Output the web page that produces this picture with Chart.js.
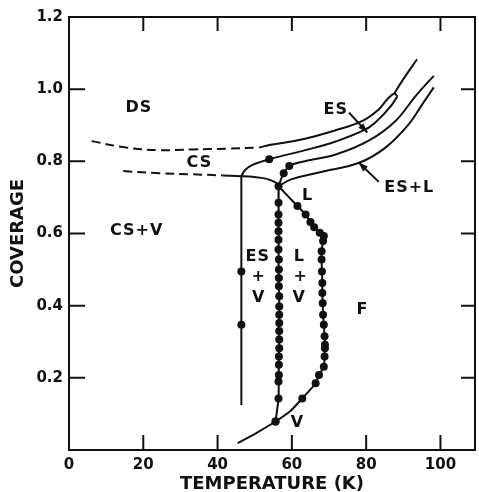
<!DOCTYPE html>
<html>
<head>
<meta charset="utf-8">
<script src="https://cdn.jsdelivr.net/npm/chart.js@4.4.1/dist/chart.umd.min.js"></script>
<style>
  html, body { margin: 0; padding: 0; background: #fff; }
</style>
</head>
<body>
<canvas id="phaseChart" width="479" height="492"></canvas>
<script>
const FONT = '"DejaVu Sans", sans-serif';
const INK = '#111';

// DS / ES upper boundary: dashed at low T, solid above, ending in the small loop
const dsDashT = [6.1, 15.5, 24.4, 33.4, 42.3, 51.2];
const dsDashCov = [0.856, 0.838, 0.831, 0.833, 0.835, 0.838];
const dsSolidT = [51.2, 53.9, 62.9, 71.8, 79.0, 83.4, 85.7, 87.6, 88.4];
const dsSolidCov = [0.838, 0.845, 0.861, 0.886, 0.912, 0.944, 0.972, 0.988, 0.980];
const tailT = [87.6, 89.7, 93.7];
const tailCov = [0.988, 1.023, 1.083];

// CS lower boundary
const csDashT = [14.6, 24.4, 33.4, 41.5];
const csDashCov = [0.773, 0.767, 0.764, 0.761];
const csSolidT = [41.5, 46.4, 49.4, 53.0, 55.7, 56.4];
const csSolidCov = [0.761, 0.759, 0.757, 0.752, 0.741, 0.731];

// CS / ES boundary
const esT = [46.4, 47.4, 49.4, 53.9, 62.9, 71.8, 79.9, 83.4, 87.0, 88.4];
const esCov = [0.759, 0.776, 0.790, 0.806, 0.829, 0.855, 0.889, 0.917, 0.958, 0.980];
const esDots = [0, 0, 0, 1, 0, 0, 0, 0, 0, 0];

// CS+V vertical boundary
const cvT = [46.4, 46.4, 46.4, 46.4];
const cvCov = [0.759, 0.495, 0.347, 0.125];
const cvDots = [0, 1, 1, 0];

// ES / ES+L boundary
const eslT = [56.4, 57.0, 57.8, 59.3, 62.9, 71.8, 80.8, 87.9, 93.3, 98.2];
const eslCov = [0.731, 0.748, 0.767, 0.787, 0.799, 0.819, 0.858, 0.912, 0.981, 1.037];
const eslDots = [0, 0, 1, 1, 0, 0, 0, 0, 0, 0];

// ES+L / L boundary
const lT = [56.4, 59.8, 67.3, 78.1, 85.2, 91.5, 95.1, 98.2];
const lCov = [0.731, 0.750, 0.769, 0.796, 0.838, 0.903, 0.958, 1.005];

// ES+V left boundary (measured points)
const esvT = [56.4, 56.4, 56.4, 56.4, 56.4, 56.4, 56.4, 56.5, 56.5, 56.5, 56.5, 56.6,
  56.6, 56.6, 56.6, 56.6, 56.6, 56.6, 56.5, 56.5, 56.5, 56.4, 56.4, 55.6];
const esvCov = [0.731, 0.685, 0.653, 0.630, 0.606, 0.583, 0.556, 0.528, 0.500, 0.477, 0.454, 0.426,
  0.398, 0.375, 0.352, 0.330, 0.306, 0.282, 0.259, 0.236, 0.208, 0.190, 0.143, 0.079];

// V curve and L+V right boundary up to the triple point
const lvT = [45.4, 50.4, 55.6, 59.6, 62.8, 66.4, 67.3, 68.6, 68.8, 68.9, 68.9, 68.8, 68.6, 68.4, 68.3,
  68.2, 68.2, 68.1, 68.0, 68.0, 68.4, 68.6, 67.5, 66.0, 65.0, 63.7, 61.5, 59.0, 56.4];
const lvCov = [0.019, 0.047, 0.079, 0.108, 0.143, 0.185, 0.208, 0.231, 0.259, 0.282, 0.292, 0.315, 0.347, 0.375, 0.407,
  0.435, 0.463, 0.495, 0.528, 0.551, 0.579, 0.593, 0.602, 0.617, 0.632, 0.653, 0.676, 0.703, 0.731];
const lvDots = [0, 0, 1, 0, 1, 1, 1, 1, 1, 1, 1, 1, 1, 1, 1,
  1, 1, 1, 1, 1, 1, 1, 1, 1, 1, 1, 1, 0, 0];

const xTicks = [0, 20, 40, 60, 80, 100];
const yTicks = [0.2, 0.4, 0.6, 0.8, 1.0, 1.2];

// region names
const regionText = ['DS', 'CS', 'CS+V', 'ES', 'ES+L', 'L', 'ES', '+', 'V', 'L', '+', 'V', 'F', 'V'];
const regionT = [18.8, 35.1, 18.2, 71.8, 91.6, 64.2, 50.8, 51.1, 51.1, 62.0, 62.4, 62.0, 79.0, 61.5];
const regionCov = [0.947, 0.795, 0.608, 0.943, 0.727, 0.704, 0.535, 0.481, 0.421, 0.535, 0.481, 0.421, 0.389, 0.074];

// leader arrows from the ES and ES+L labels
const arrowStart = [[75.4, 0.935], [83.4, 0.743]];
const arrowEnd = [[80.3, 0.880], [78.0, 0.797]];

const pts = (ts, cs) => ts.map((t, i) => ({ x: t, y: cs[i] }));
const radii = flags => flags.map(f => (f ? 4 : 0));

function curve (ts, cs, extra) {
	return Object.assign({
		data: pts(ts, cs),
		showLine: true,
		borderColor: INK,
		borderWidth: 2,
		pointRadius: 0,
		pointBackgroundColor: INK,
		pointBorderWidth: 0,
		tension: 0.4,
		fill: false,
	}, extra || {});
}

const frame = {
	id: 'frame',
	afterDraw (chart) {
		const { ctx, chartArea: a, scales: { x, y } } = chart;
		ctx.save();
		ctx.strokeStyle = INK;
		ctx.lineWidth = 2;
		ctx.strokeRect(a.left, a.top, a.right - a.left, a.bottom - a.top);
		ctx.beginPath();
		xTicks.filter(v => v > 0).forEach(v => {
			const px = x.getPixelForValue(v);
			ctx.moveTo(px, a.bottom); ctx.lineTo(px, a.bottom - 15);
			ctx.moveTo(px, a.top); ctx.lineTo(px, a.top + 14);
		});
		yTicks.filter(v => v < 1.2).forEach(v => {
			const py = y.getPixelForValue(v);
			ctx.moveTo(a.left, py); ctx.lineTo(a.left + 16, py);
			ctx.moveTo(a.right, py); ctx.lineTo(a.right - 14, py);
		});
		ctx.stroke();

		ctx.fillStyle = INK;
		ctx.font = 'bold 16px ' + FONT;
		ctx.letterSpacing = '1px';
		ctx.textAlign = 'center';
		ctx.textBaseline = 'middle';
		regionText.forEach((txt, i) => {
			ctx.fillText(txt, x.getPixelForValue(regionT[i]), y.getPixelForValue(regionCov[i]));
		});
		ctx.letterSpacing = '0px';

		arrowStart.forEach((s, i) => {
			const x1 = x.getPixelForValue(s[0]), y1 = y.getPixelForValue(s[1]);
			const x2 = x.getPixelForValue(arrowEnd[i][0]), y2 = y.getPixelForValue(arrowEnd[i][1]);
			const ang = Math.atan2(y2 - y1, x2 - x1);
			ctx.beginPath();
			ctx.moveTo(x1, y1);
			ctx.lineTo(x2, y2);
			ctx.stroke();
			ctx.beginPath();
			ctx.moveTo(x2, y2);
			ctx.lineTo(x2 - 10 * Math.cos(ang - 0.35), y2 - 10 * Math.sin(ang - 0.35));
			ctx.lineTo(x2 - 10 * Math.cos(ang + 0.35), y2 - 10 * Math.sin(ang + 0.35));
			ctx.closePath();
			ctx.fill();
		});
		ctx.restore();
	},
};

const tickFont = { family: FONT, size: 15, weight: 'bold' };
const titleFont = { family: FONT, size: 18, weight: 'bold', lineHeight: 0.8 };

new Chart(document.getElementById('phaseChart'), {
	type: 'scatter',
	data: {
		datasets: [
			curve(dsDashT, dsDashCov, { borderDash: [9, 5] }),
			curve(dsSolidT, dsSolidCov),
			curve(tailT, tailCov),
			curve(csDashT, csDashCov, { borderDash: [9, 5] }),
			curve(csSolidT, csSolidCov),
			curve(esT, esCov, { pointRadius: radii(esDots) }),
			curve(cvT, cvCov, { pointRadius: radii(cvDots), tension: 0 }),
			curve(eslT, eslCov, { pointRadius: radii(eslDots) }),
			curve(lT, lCov),
			curve(esvT, esvCov, { pointRadius: 4, tension: 0 }),
			curve(lvT, lvCov, { pointRadius: radii(lvDots), tension: 0.25 }),
		],
	},
	options: {
		responsive: false,
		animation: false,
		events: [],
		layout: { padding: { top: 17, right: 3, left: 0, bottom: 0 } },
		plugins: { legend: { display: false }, tooltip: { enabled: false } },
		scales: {
			x: {
				type: 'linear',
				min: 0,
				max: 109.3,
				afterFit: s => { s.height = 42; },
				grid: { display: false, drawTicks: false },
				border: { display: false },
				ticks: {
					stepSize: 20,
					includeBounds: false,
					autoSkip: false,
					maxRotation: 0,
					padding: 6,
					color: INK,
					font: tickFont,
					callback: v => (xTicks.includes(v) ? String(v) : ''),
				},
				title: { display: true, text: 'TEMPERATURE (K)', color: INK, font: titleFont, padding: 0 },
			},
			y: {
				type: 'linear',
				min: 0,
				max: 1.2,
				afterFit: s => { s.width = 69; },
				grid: { display: false, drawTicks: false },
				border: { display: false },
				ticks: {
					stepSize: 0.2,
					autoSkip: false,
					padding: 6,
					color: INK,
					font: tickFont,
					callback: v => (v > 0.01 ? v.toFixed(1) : ''),
				},
				title: { display: true, text: 'COVERAGE', color: INK, font: titleFont, padding: { top: 11, bottom: 0 } },
			},
		},
	},
	plugins: [frame],
});
</script>
</body>
</html>
